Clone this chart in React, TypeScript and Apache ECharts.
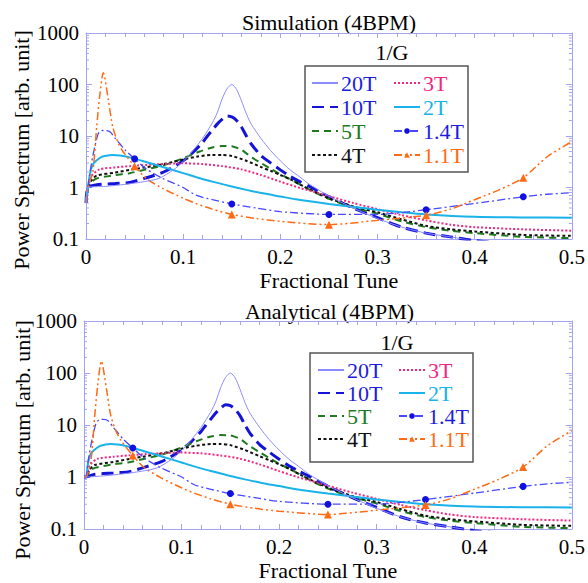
import React, { useEffect, useRef } from 'react';
import * as echarts from 'echarts';

// ---------- data ----------
const SERIES_NAMES = ['20T', '10T', '5T', '4T', '3T', '2T', '1.4T', '1.1T'];
const LEGEND_COL1 = ['20T', '10T', '5T', '4T'];
const LEGEND_COL2 = ['3T', '2T', '1.4T', '1.1T'];
const PANEL_TITLES = ['Simulation (4BPM)', 'Analytical (4BPM)'];
const LEGEND_TITLE = '1/G';
const X_NAME = 'Fractional Tune';
const Y_NAME = 'Power Spectrum [arb. unit]';
const MARKER_TUNES = [0.05, 0.15, 0.25, 0.35, 0.45];
const Y_MINOR_VALUES = [0.2, 0.3, 0.4, 0.5, 0.6, 0.7, 0.8, 0.9, 2, 3, 4, 5, 6, 7, 8, 9, 20, 30, 40, 50, 60, 70, 80, 90, 200, 300, 400, 500, 600, 700, 800, 900];
const SIM_START = [0, 0.5];
const ANA_START = [0, 1.0];

const CURVE_20T = [[0.002, 1.0], [0.02, 1.05], [0.04, 1.15], [0.06, 1.3], [0.075, 1.5], [0.09, 2.2], [0.1, 3.2], [0.11, 5.2], [0.12, 9], [0.13, 18], [0.135, 28], [0.14, 52], [0.145, 82], [0.15, 100], [0.155, 80], [0.16, 48], [0.165, 27], [0.17, 17], [0.18, 9], [0.19, 5.2], [0.2, 3.3], [0.21, 2.2], [0.22, 1.6], [0.23, 1.15], [0.25, 0.68], [0.275, 0.4], [0.3, 0.25], [0.325, 0.17], [0.35, 0.13], [0.375, 0.11], [0.4, 0.092], [0.45, 0.075], [0.5, 0.068]];
const CURVE_10T = [[0.002, 1.0], [0.01, 1.12], [0.03, 1.2], [0.045, 1.25], [0.06, 1.5], [0.08, 2.0], [0.1, 3.3], [0.11, 4.8], [0.12, 7.5], [0.125, 10], [0.13, 13], [0.135, 17], [0.14, 21], [0.145, 24.5], [0.15, 23.5], [0.155, 20], [0.16, 15], [0.165, 10], [0.17, 7], [0.18, 4.2], [0.19, 3.0], [0.2, 2.2], [0.21, 1.65], [0.22, 1.3], [0.23, 1.05], [0.25, 0.66], [0.275, 0.4], [0.3, 0.26], [0.325, 0.17], [0.35, 0.13], [0.375, 0.11], [0.4, 0.093], [0.45, 0.077], [0.5, 0.07]];
const CURVE_5T = [[0.002, 1.0], [0.006, 1.3], [0.011, 1.5], [0.03, 1.75], [0.045, 1.9], [0.06, 2.2], [0.08, 2.7], [0.1, 3.7], [0.117, 5.0], [0.13, 6.0], [0.14, 6.4], [0.15, 6.3], [0.16, 5.4], [0.165, 4.6], [0.17, 3.9], [0.18, 3.0], [0.19, 2.3], [0.2, 1.8], [0.21, 1.45], [0.22, 1.15], [0.234, 0.83], [0.25, 0.6], [0.275, 0.41], [0.3, 0.31], [0.325, 0.22], [0.35, 0.17], [0.375, 0.145], [0.4, 0.13], [0.45, 0.11], [0.5, 0.104]];
const CURVE_4T = [[0.002, 1.0], [0.006, 1.4], [0.011, 1.7], [0.03, 1.95], [0.045, 2.2], [0.06, 2.45], [0.08, 2.85], [0.1, 3.5], [0.115, 4.0], [0.13, 4.3], [0.14, 4.3], [0.15, 4.1], [0.165, 3.3], [0.18, 2.5], [0.19, 2.1], [0.2, 1.75], [0.21, 1.45], [0.22, 1.15], [0.234, 0.85], [0.25, 0.62], [0.275, 0.43], [0.3, 0.33], [0.325, 0.24], [0.35, 0.18], [0.375, 0.155], [0.4, 0.14], [0.45, 0.12], [0.5, 0.115]];
const CURVE_3T = [[0.002, 1.0], [0.006, 1.7], [0.014, 2.25], [0.03, 2.45], [0.045, 2.6], [0.07, 2.8], [0.1, 2.95], [0.12, 2.85], [0.14, 2.6], [0.16, 2.25], [0.18, 1.75], [0.2, 1.3], [0.22, 0.98], [0.234, 0.83], [0.25, 0.68], [0.275, 0.5], [0.3, 0.38], [0.325, 0.29], [0.35, 0.23], [0.375, 0.19], [0.4, 0.17], [0.45, 0.154], [0.5, 0.145]];
const CURVE_2T = [[0.002, 1.0], [0.004, 1.8], [0.007, 2.8], [0.012, 3.5], [0.017, 4.0], [0.027, 4.3], [0.035, 4.2], [0.045, 3.85], [0.06, 3.2], [0.079, 2.5], [0.1, 1.9], [0.113, 1.6], [0.13, 1.3], [0.148, 1.07], [0.165, 0.9], [0.182, 0.77], [0.2, 0.67], [0.216, 0.59], [0.25, 0.48], [0.275, 0.42], [0.3, 0.37], [0.325, 0.33], [0.35, 0.3], [0.4, 0.27], [0.45, 0.262], [0.5, 0.26]];
const CURVE_1_4T = [[0.002, 1.0], [0.0045, 2.2], [0.008, 5], [0.0125, 11], [0.016, 12.7], [0.02, 12.8], [0.025, 12], [0.03, 9], [0.035, 7], [0.04, 5.4], [0.05, 3.6], [0.062, 2.3], [0.079, 1.5], [0.1, 1.0], [0.113, 0.71], [0.13, 0.58], [0.15, 0.48], [0.175, 0.4], [0.2, 0.34], [0.25, 0.3], [0.3, 0.3], [0.35, 0.37], [0.4, 0.49], [0.45, 0.66], [0.475, 0.74], [0.5, 0.79]];
const CURVE_1_1T = [[0.002, 1.0], [0.007, 2], [0.011, 15], [0.014, 58], [0.0178, 170], [0.023, 50], [0.0275, 15], [0.033, 7.5], [0.038, 5.0], [0.05, 2.6], [0.062, 1.5], [0.079, 0.96], [0.1, 0.62], [0.113, 0.49], [0.13, 0.38], [0.15, 0.3], [0.175, 0.25], [0.2, 0.22], [0.25, 0.19], [0.3, 0.23], [0.35, 0.29], [0.375, 0.38], [0.4, 0.58], [0.425, 0.9], [0.45, 1.55], [0.475, 4.0], [0.5, 7.8]];

const CURVES: Record<string, number[][]> = {
  '20T': CURVE_20T, '10T': CURVE_10T, '5T': CURVE_5T, '4T': CURVE_4T,
  '3T': CURVE_3T, '2T': CURVE_2T, '1.4T': CURVE_1_4T, '1.1T': CURVE_1_1T,
};

// ---------- styles ----------
const FONT = "'Liberation Serif', 'Times New Roman', serif";
const AXIS_COLOR = '#a4a4ee';
const STYLES: Record<string, any> = {
  '20T': { color: '#8c8cff', text: '#1c1ce0', width: 1, type: 'solid', symbol: 'none' },
  '10T': { color: '#1414d8', text: '#1c1ce0', width: 3, type: [12, 6], symbol: 'none' },
  '5T': { color: '#1e7a1e', text: '#1e7a1e', width: 2, type: [7, 5], symbol: 'none' },
  '4T': { color: '#111111', text: '#111111', width: 2, type: [3, 2.5], symbol: 'none' },
  '3T': { color: '#f0287f', text: '#f0287f', width: 2, type: [2, 2], symbol: 'none' },
  '2T': { color: '#19b2ea', text: '#19b2ea', width: 2, type: 'solid', symbol: 'none' },
  '1.4T': { color: '#4848ff', text: '#1c1ce0', width: 1.3, type: [8, 3, 2, 3], symbol: 'circle', mcolor: '#1010e0', msize: 7 },
  '1.1T': { color: '#ff6a14', text: '#ff6a14', width: 1.5, type: [8, 3, 2, 3, 2, 3], symbol: 'triangle', mcolor: '#ff6a14', msize: 8 },
};

const PANELS = [
  { grid: { left: 86, top: 33, width: 486, height: 206 }, start: SIM_START, titleY: 22, legTop: 72, legGap: 2, col1: 311, col2: 393, box: { x: 305, y: 66, width: 163, height: 106 }, lgX: 392, lgY: 52, yNameX: 21, yNameY: 150 },
  { grid: { left: 84, top: 321, width: 491, height: 208 }, start: ANA_START, titleY: 311, legTop: 359, legGap: 1, col1: 317, col2: 398, box: { x: 310, y: 353, width: 163, height: 109 }, lgX: 397, lgY: 342, yNameX: 22, yNameY: 440 },
];

function buildOption() {
  const grid: any[] = [];
  const xAxis: any[] = [];
  const yAxis: any[] = [];
  const series: any[] = [];
  const legend: any[] = [];
  const graphic: any[] = [];

  PANELS.forEach((p, pi) => {
    grid.push({ ...p.grid, containLabel: false });
    const xb = {
      type: 'value', gridIndex: pi, min: 0, max: 0.5, interval: 0.1,
      axisLine: { show: true, onZero: false, lineStyle: { color: AXIS_COLOR, width: 1 } },
      axisTick: { show: true, inside: true, length: 5, lineStyle: { color: AXIS_COLOR } },
      minorTick: { show: true, splitNumber: 5, length: 4, lineStyle: { color: AXIS_COLOR } },
      splitLine: { show: false },
    };
    xAxis.push({
      ...xb, position: 'bottom',
      axisLabel: { color: '#000', fontFamily: FONT, fontSize: 21, margin: 7, formatter: (v: number) => String(+v.toFixed(2)) },
      name: X_NAME, nameLocation: 'middle', nameGap: 30,
      nameTextStyle: { color: '#000', fontFamily: FONT, fontSize: 22 },
    });
    xAxis.push({ ...xb, position: 'top', axisLabel: { show: false } });
    const yb = {
      type: 'log', gridIndex: pi, min: 0.1, max: 1000, logBase: 10,
      axisLine: { show: true, onZero: false, lineStyle: { color: AXIS_COLOR, width: 1 } },
      axisTick: { show: true, inside: true, length: 6, lineStyle: { color: AXIS_COLOR } },
      minorTick: { show: false },
      splitLine: { show: false },
    };
    yAxis.push({
      ...yb, position: 'left',
      axisLabel: { color: '#000', fontFamily: FONT, fontSize: 21, margin: 7, formatter: (v: number) => String(+(+v).toPrecision(3)) },
    });
    yAxis.push({ ...yb, position: 'right', axisLabel: { show: false } });

    const xi = pi * 2;
    const yi = pi * 2;

    SERIES_NAMES.forEach((name) => {
      const s = STYLES[name];
      const pts = [p.start, ...CURVES[name]];
      const hasMarker = s.symbol !== 'none';
      series.push({
        type: 'line', name, xAxisIndex: xi, yAxisIndex: yi,
        data: pts.map((pt) => hasMarker
          ? { value: pt, symbol: MARKER_TUNES.some((m) => Math.abs(m - pt[0]) < 1e-9) ? s.symbol : 'none' }
          : pt),
        symbol: s.symbol, symbolSize: s.msize || 6, showSymbol: hasMarker,
        itemStyle: { color: s.mcolor || s.color },
        lineStyle: { color: s.color, width: s.width, type: s.type },
        smooth: 0.25, clip: true, silent: true,
        z: name === '20T' ? 3 : 2,
      });
    });

    // classic log minor ticks on left and right edges, placed through the axis scale
    series.push({
      type: 'custom', name: 'minor', xAxisIndex: xi, yAxisIndex: yi, silent: true,
      data: Y_MINOR_VALUES.map((v) => [0, v]),
      renderItem: (params: any, api: any) => {
        const v = api.value(1);
        const l = api.coord([0, v]);
        const r = api.coord([0.5, v]);
        return {
          type: 'group',
          children: [
            { type: 'line', shape: { x1: l[0], y1: l[1], x2: l[0] + 3, y2: l[1] }, style: { stroke: AXIS_COLOR, lineWidth: 1 } },
            { type: 'line', shape: { x1: r[0] - 3, y1: r[1], x2: r[0], y2: r[1] }, style: { stroke: AXIS_COLOR, lineWidth: 1 } },
          ],
        };
      },
    });

    const legItem = (n: string) => ({
      name: n,
      textStyle: { color: STYLES[n].text },
      ...(STYLES[n].symbol === 'none' ? { itemStyle: { color: 'rgba(0,0,0,0)', borderWidth: 0, opacity: 0 } } : {}),
    });
    const legBase = {
      orient: 'vertical', top: p.legTop, padding: 0, itemGap: p.legGap,
      itemWidth: 26, itemHeight: 7, selectedMode: false,
      textStyle: { fontFamily: FONT, fontSize: 22, lineHeight: 22, padding: [0, 0, 0, -2] },
    };
    legend.push({ ...legBase, left: p.col1, data: LEGEND_COL1.map(legItem) });
    legend.push({ ...legBase, left: p.col2, data: LEGEND_COL2.map(legItem) });

    graphic.push({ type: 'rect', shape: p.box, style: { fill: 'none', stroke: '#555', lineWidth: 1.5 }, silent: true });
    graphic.push({ type: 'text', x: p.lgX, y: p.lgY, style: { text: LEGEND_TITLE, fontFamily: FONT, fontSize: 22, fill: '#000', align: 'center', verticalAlign: 'middle' } });
    graphic.push({ type: 'text', x: p.grid.left + p.grid.width / 2, y: p.titleY, style: { text: PANEL_TITLES[pi], fontFamily: FONT, fontSize: 22, fill: '#000', align: 'center', verticalAlign: 'middle' } });
    graphic.push({ type: 'text', x: p.yNameX, y: p.yNameY, rotation: Math.PI / 2, style: { text: Y_NAME, fontFamily: FONT, fontSize: 22, fill: '#000', align: 'center', verticalAlign: 'middle' } });
  });

  return { animation: false, backgroundColor: '#fff', textStyle: { fontFamily: FONT }, grid, xAxis, yAxis, series, legend, graphic };
}

export default function App() {
  const ref = useRef<HTMLDivElement>(null);
  useEffect(() => {
    if (!ref.current) return;
    const chart = echarts.init(ref.current, undefined, { renderer: 'svg' });
    chart.setOption(buildOption() as any);
    return () => chart.dispose();
  }, []);
  return <div ref={ref} style={{ position: 'fixed', left: 0, top: 0, width: 588, height: 583 }} />;
}
